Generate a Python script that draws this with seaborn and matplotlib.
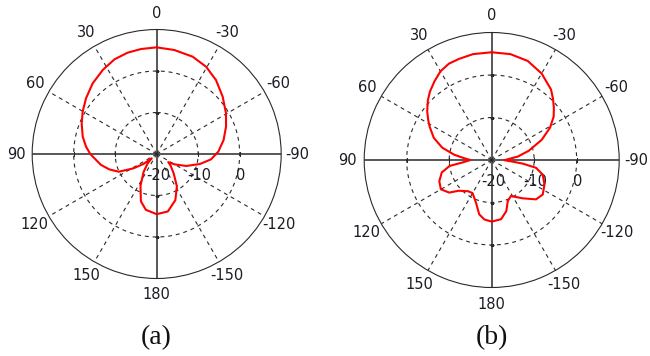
import numpy as np
import pandas as pd
import matplotlib
matplotlib.use("Agg")
import matplotlib.pyplot as plt
import seaborn as sns

# Radiation pattern (a): angle in degrees (0 at top, positive counter-clockwise), gain in dB
theta_a = [0, 8.5, 16, 24, 32.7, 42.2, 51.8, 60.2, 67.8, 76.8, 84.1, 90,
           101, 108, 115, 121.6, 126.9, 131, 136, 143.7, 153, 161.5, 169, 180,
           -169, -158, -148, -138.7, -130, -125, -120, -112, -103, -95.6,
           -87.8, -78.2, -68.5, -59.6, -49, -38.7, -29.5, -20.3, -9.6, 0]
gain_a = [5.7, 5.58, 5.40, 4.98, 4.06, 2.97, 1.68, 0.55, -0.48, -1.69, -2.89, -4.0,
          -6.3, -8.0, -9.9, -13.4, -16.0, -18.4, -16.9, -14.7, -11.4, -8.0, -6.3, -5.5,
          -5.9, -8.0, -10.8, -13.8, -15.6, -16.6, -15.0, -12.3, -9.3, -6.84,
          -5.14, -3.53, -2.04, -0.63, 1.07, 2.85, 4.17, 5.0, 5.42, 5.7]

# Radiation pattern (b)
theta_b = [0, 10, 18, 24, 30, 36, 42, 47, 53, 58, 62, 69, 76, 82, 86.5, 90,
           95, 98, 104, 112, 120, 127.5, 133, 143, 150, 159.8, 167, 173, 180,
           -171, -164, -158.7, -152, -141, -131.6, -124, -115, -106, -100,
           -96.7, -94.5, -91, -86, -82.5, -76, -68, -61, -55, -50, -45, -40,
           -30, -20, -10, 0]
gain_b = [5.35, 5.3, 5.0, 4.8, 4.1, 2.9, 1.7, 0.55, -1.0, -2.4, -3.5, -5.4, -8.0, -11.1, -13.6, -15.0,
          -13.0, -10.0, -7.9, -6.7, -6.2, -7.4, -9.4, -10.8, -11.0, -9.3, -6.9, -5.9, -5.5,
          -5.9, -7.5, -9.6, -10.4, -8.4, -6.05, -5.5, -6.3, -7.5, -9.4,
          -12.6, -15.0, -17.0, -15.8, -13.8, -11.0, -7.3, -4.3, -2.2, -0.9, 0.4, 1.7,
          3.5, 4.8, 5.3, 5.35]

angle_ticks = [0, 30, 60, 90, 120, 150, 180, -150, -120, -90, -60, -30]
radial_ticks = [-20, -10, 0]
panel_labels = ["(a)", "(b)"]
r_min, r_max = -20, 10

sns.set_style("white")
plt.rcParams["font.family"] = ["DejaVu Sans"]

TEXT = "#1c1c24"
GRID = "#2a2a2a"

fig = plt.figure(figsize=(6.5, 3.56), dpi=100)
ax_a = fig.add_axes([0.0495, 0.2177, 0.3831, 0.6994], projection="polar")
ax_b = fig.add_axes([0.5603, 0.1924, 0.3923, 0.7163], projection="polar")


def draw_pattern(ax, theta, gain):
    ax.set_theta_zero_location("N")
    ax.set_theta_direction(1)
    ax.set_ylim(r_min, r_max)
    ax.set_xticks([])
    ax.set_yticks([])
    ax.grid(False)
    ax.set_facecolor("white")
    ax.spines["polar"].set_color(GRID)
    ax.spines["polar"].set_linewidth(0.8)

    # spokes: solid principal axes, dashed every 30 degrees otherwise
    for a in angle_ticks:
        t = np.deg2rad(a)
        if a % 90 == 0:
            ax.plot([t, t], [r_min, r_max], color=GRID, lw=1.1, zorder=2)
        else:
            ax.plot([t, t], [r_min, r_max], color=GRID, lw=0.8,
                    linestyle=(0, (3.5, 3.5)), zorder=1)

    # dashed level circles with small ticks where they cross the axes
    circ = np.linspace(0, 2 * np.pi, 361)
    for r in radial_ticks[1:]:
        ax.plot(circ, np.full_like(circ, r), color=GRID, lw=0.8,
                linestyle=(0, (3.5, 3.5)), zorder=1)
        for a, m in [(90, "|"), (-90, "|"), (0, "_"), (180, "_")]:
            ax.plot([np.deg2rad(a)], [r], marker=m, ms=3, mew=0.8,
                    color=GRID, zorder=3)

    # angle labels around the rim
    r_lab = r_max + 0.13 * (r_max - r_min)
    for a in angle_ticks:
        ax.text(np.deg2rad(a), r_lab, str(a), ha="center", va="center",
                fontsize=10.5, color=TEXT, clip_on=False)

    # level labels just below the right-hand axis
    for r in radial_ticks:
        ax.annotate(str(r), xy=(np.deg2rad(-90), r), xytext=(1, -15.5),
                    textcoords="offset points", ha="center", va="center",
                    fontsize=10.5, color=TEXT, zorder=4)

    df = pd.DataFrame({"theta": np.deg2rad(theta), "gain": gain})
    sns.lineplot(data=df, x="theta", y="gain", sort=False, estimator=None,
                 color="#ff0000", lw=1.5, ax=ax, zorder=5)
    ax.set_xlabel("")
    ax.set_ylabel("")
    ax.set_ylim(r_min, r_max)


draw_pattern(ax_a, theta_a, gain_a)
draw_pattern(ax_b, theta_b, gain_b)

for x, lab in zip([0.241, 0.7565], panel_labels):
    fig.text(x, 0.051, lab, ha="center", va="center", fontsize=20,
             family="Liberation Serif", color="#111111")

fig.savefig("out.png", dpi=100, facecolor="white")
